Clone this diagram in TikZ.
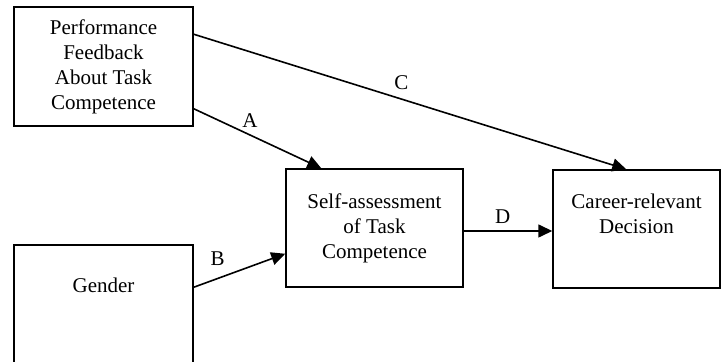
\documentclass[tikz,border=0pt]{standalone}
\usepackage{fontspec}
\setmainfont{Liberation Serif}
\usetikzlibrary{arrows.meta}
\tikzset{
	box/.style={draw, line width=.75pt, inner sep=0pt, align=center},
	txt/.style={inner sep=0pt, align=center},
	path/.style={->, line width=.8pt}
}
\begin{document}
\begin{tikzpicture}[x=.5pt, y=-.5pt, >={Triangle[length=7pt,width=6.5pt]},
		font=\fontsize{10.5}{12.5}\selectfont]
				\useasboundingbox (0,0) rectangle (722,362);
				\node[box, minimum width=89.5pt, minimum height=59.5pt] (perf) at (103.5,66.5) {Performance\\Feedback\\About Task\\Competence};
				\node[box, minimum width=89.5pt, minimum height=63.5pt] (gender) at (103.5,308.5) {};
				\node[txt] (gendertxt) at (103.5,285) {Gender};
				\node[box, minimum width=88.5pt, minimum height=59pt] (self) at (374.5,228) {Self-assessment\\of Task\\Competence};
				\node[box, minimum width=83.5pt, minimum height=59pt] (dec) at (636.5,229) {};
				\node[txt] (dectxt) at (636.5,214) {Career-relevant\\Decision};
				\draw[path] ([yshift=9pt]perf.south east) to node[pos=.44, above] {A} ([xshift=18pt]self.north west);
				\draw[path] ([yshift=-14pt]perf.north east) to node[pos=.48, above=1pt] {C} ([xshift=37pt]dec.north west);
				\draw[path] ([yshift=-21.5pt]gender.north east) to node[pos=.26, above=3pt] {B} ([yshift=17pt]self.south west);
				\draw[path] ([yshift=-1.5pt]self.east) to node[pos=.44, above] {D} ([yshift=-1.5pt]self.east -| dec.west);
			\end{tikzpicture}
\end{document}
